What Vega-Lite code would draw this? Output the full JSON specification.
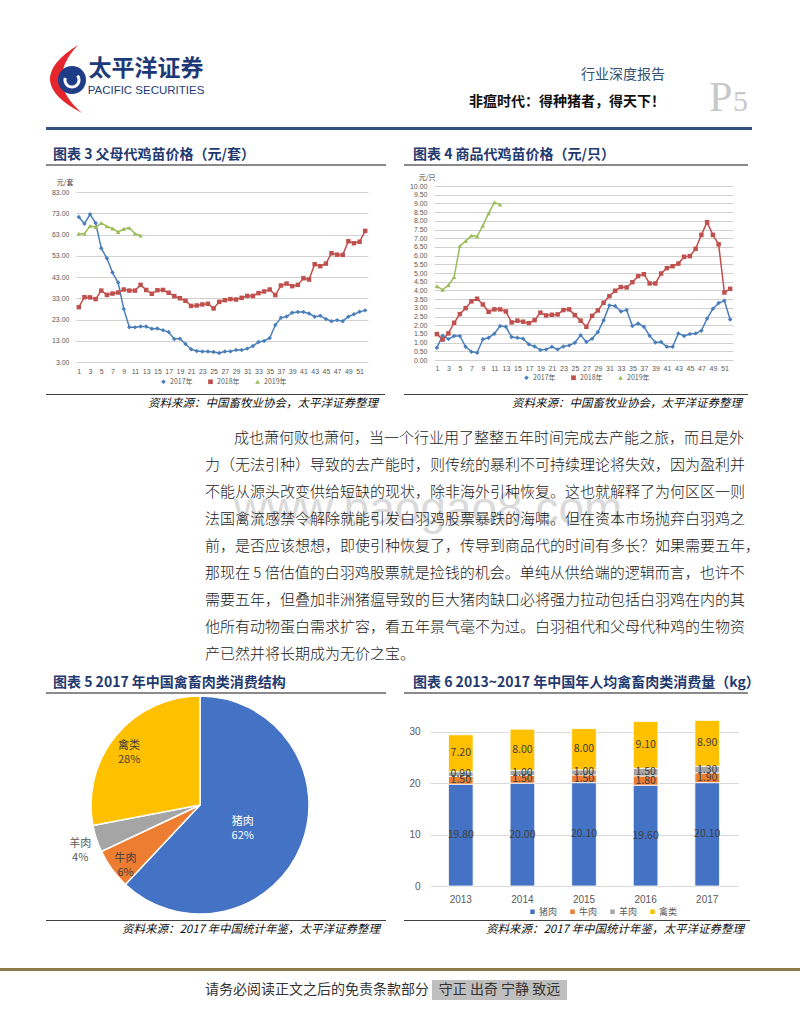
{
"$schema": "https://vega.github.io/schema/vega-lite/v6.json",
"background": "white",
"padding": 0,
"columns": 3,
"spacing": 0,
"bounds": "flush",
"align": "each",
"resolve": {
  "scale": {"x": "independent", "y": "independent", "color": "independent", "shape": "independent", "theta": "independent"},
  "axis": {"x": "independent", "y": "independent"},
  "legend": {"color": "independent", "shape": "independent"}
},
"config": {
  "view": {"stroke": null},
  "font": "Noto Sans CJK SC",
  "axis": {"labelFont": "Liberation Sans", "titleFont": "Noto Sans CJK SC"},
  "legend": {"labelFont": "Noto Sans CJK SC"},
  "title": {"fontWeight": "normal", "font": "Noto Sans CJK SC"}
},
"concat": [
{"width":1,"height":40,"data":{"values":[]},"mark":"point","encoding":{}},
{"width":1,"height":1,"data":{"values":[]},"mark":"point","encoding":{}},
{"width":1,"height":1,"data":{"values":[]},"mark":"point","encoding":{}},

{"width":1,"height":1,"data":{"values":[]},"mark":"point","encoding":{}},
{"width":52,"height":80,
 "data":{"values":[{"名称":"太平洋证券","英文":"PACIFIC SECURITIES"}]},
 "layer":[
  {"mark":{"type":"point","shape":"M0.171,-1Q-1.486,0.029,0.286,0.943Q-0.8,0.029,0.171,-1Z","size":4900,"filled":true,"opacity":1,"color":"#e5262d","strokeWidth":0},"encoding":{}},
  {"mark":{"type":"arc","theta":0,"theta2":6.2832,"innerRadius":0,"outerRadius":14,"color":"#1f3c86"},"encoding":{}},
  {"mark":{"type":"arc","theta":0.9,"theta2":5.0,"innerRadius":5.5,"outerRadius":8.5,"color":"white"},"encoding":{}},
  {"mark":{"type":"text","dx":74,"dy":1,"baseline":"bottom","fontSize":23,"fontWeight":"bold","color":"#1d3a78"},"encoding":{"text":{"field":"名称"}}},
  {"mark":{"type":"text","dx":74,"dy":5,"baseline":"top","fontSize":11.5,"font":"Liberation Sans","color":"#1d3a78"},"encoding":{"text":{"field":"英文"}}}
 ]},
{"width":344,"height":80,
 "data":{"values":[{"类型":"行业深度报告","标题":"非瘟时代：得种猪者，得天下！","页":"P","码":"5"}]},
 "layer":[
  {"mark":{"type":"text","align":"right","baseline":"middle","dx":89,"dy":-5,"fontSize":14,"color":"#34506e"},"encoding":{"text":{"field":"类型"}}},
  {"mark":{"type":"text","align":"right","baseline":"middle","dx":89,"dy":22,"fontSize":14,"fontWeight":"bold","color":"#111111"},"encoding":{"text":{"field":"标题"}}},
  {"mark":{"type":"text","align":"left","baseline":"alphabetic","dx":133,"dy":31,"fontSize":42,"font":"Liberation Serif","color":"#c8c8c8"},"encoding":{"text":{"field":"页"}}},
  {"mark":{"type":"text","align":"left","baseline":"alphabetic","dx":157,"dy":31,"fontSize":30,"font":"Liberation Serif","color":"#c8c8c8"},"encoding":{"text":{"field":"码"}}}
 ]},

{"width":1,"height":7,"data":{"values":[]},"mark":"point","encoding":{}},
{"width":1,"height":1,"data":{"values":[]},"mark":"point","encoding":{}},
{"width":1,"height":1,"data":{"values":[]},"mark":"point","encoding":{}},

{"width":1,"height":1,"data":{"values":[]},"mark":"point","encoding":{}},
{"width":358,"height":3,"view":{"fill":"#34527d","stroke":null},"data":{"values":[]},"mark":"point","encoding":{}},
{"width":348,"height":3,"view":{"fill":"#34527d","stroke":null},"data":{"values":[]},"mark":"point","encoding":{}},

{"width":1,"height":34,"data":{"values":[]},"mark":"point","encoding":{}},
{"width":1,"height":1,"data":{"values":[]},"mark":"point","encoding":{}},
{"width":1,"height":1,"data":{"values":[]},"mark":"point","encoding":{}},

{"width":1,"height":1,"data":{"values":[]},"mark":"point","encoding":{}},
{"width":340,"height":2,"view":{"fill":"#8a8a8a","stroke":null},
 "title":{"text":"图表 3 父母代鸡苗价格（元/套）","anchor":"start","offset":2,"dx":7,"fontSize":14,"fontWeight":"bold","color":"#1f3a6e"},
 "data":{"values":[]},"mark":"point","encoding":{}},
{"width":344,"height":2,"view":{"fill":"#8a8a8a","stroke":null},
 "title":{"text":"图表 4 商品代鸡苗价格（元/只）","anchor":"start","offset":2,"dx":9,"fontSize":14,"fontWeight":"bold","color":"#1f3a6e"},
 "data":{"values":[]},"mark":"point","encoding":{}},

{"width":1,"height":20,"data":{"values":[]},"mark":"point","encoding":{}},
{"width":1,"height":1,"data":{"values":[]},"mark":"point","encoding":{}},
{"width":1,"height":1,"data":{"values":[]},"mark":"point","encoding":{}},

{"width":1,"height":1,"data":{"values":[]},"mark":"point","encoding":{}},
{"width":322,"height":176,
 "data":{"values":[
  {"周":1,"2017年":71.2,"2018年":28.8,"2019年":63.4},
  {"周":2,"2017年":68.1,"2018年":33.5,"2019年":63.4},
  {"周":3,"2017年":72.5,"2018年":33.4,"2019年":67.0},
  {"周":4,"2017年":68.4,"2018年":32.6,"2019年":66.5},
  {"周":5,"2017年":56.5,"2018年":36.6,"2019年":68.4},
  {"周":6,"2017年":51.8,"2018年":34.6,"2019年":66.8},
  {"周":7,"2017年":45.1,"2018年":35.2,"2019年":65.8},
  {"周":8,"2017年":40.4,"2018年":35.7,"2019年":64.2},
  {"周":9,"2017年":28.0,"2018年":37.1,"2019年":65.6},
  {"周":10,"2017年":19.4,"2018年":36.6,"2019年":66.1},
  {"周":11,"2017年":19.3,"2018年":36.6,"2019年":63.4},
  {"周":12,"2017年":19.7,"2018年":39.3,"2019年":62.5},
  {"周":13,"2017年":19.7,"2018年":36.9},
  {"周":14,"2017年":18.6,"2018年":35.1},
  {"周":15,"2017年":18.8,"2018年":36.8},
  {"周":16,"2017年":17.9,"2018年":36.9},
  {"周":17,"2017年":17.1,"2018年":35.6},
  {"周":18,"2017年":13.8,"2018年":34.0},
  {"周":19,"2017年":14.0,"2018年":33.0},
  {"周":20,"2017年":11.5,"2018年":31.8},
  {"周":21,"2017年":9.0,"2018年":29.4},
  {"周":22,"2017年":8.2,"2018年":29.6},
  {"周":23,"2017年":7.9,"2018年":30.1},
  {"周":24,"2017年":7.9,"2018年":30.4},
  {"周":25,"2017年":7.7,"2018年":28.2},
  {"周":26,"2017年":7.2,"2018年":31.3},
  {"周":27,"2017年":7.9,"2018年":32.1},
  {"周":28,"2017年":8.0,"2018年":32.6},
  {"周":29,"2017年":8.6,"2018年":32.4},
  {"周":30,"2017年":8.6,"2018年":33.2},
  {"周":31,"2017年":9.3,"2018年":34.1},
  {"周":32,"2017年":10.5,"2018年":34.1},
  {"周":33,"2017年":12.4,"2018年":35.4},
  {"周":34,"2017年":12.9,"2018年":36.2},
  {"周":35,"2017年":14.3,"2018年":37.1},
  {"周":36,"2017年":20.4,"2018年":34.5},
  {"周":37,"2017年":23.8,"2018年":39.0},
  {"周":38,"2017年":24.4,"2018年":39.9},
  {"周":39,"2017年":26.2,"2018年":38.7},
  {"周":40,"2017年":26.5,"2018年":39.3},
  {"周":41,"2017年":26.5,"2018年":42.4},
  {"周":42,"2017年":25.8,"2018年":41.8},
  {"周":43,"2017年":24.3,"2018年":49.0},
  {"周":44,"2017年":24.8,"2018年":48.1},
  {"周":45,"2017年":23.2,"2018年":49.3},
  {"周":46,"2017年":22.2,"2018年":54.2},
  {"周":47,"2017年":22.7,"2018年":53.5},
  {"周":48,"2017年":22.2,"2018年":53.4},
  {"周":49,"2017年":24.3,"2018年":59.8},
  {"周":50,"2017年":25.5,"2018年":58.9},
  {"周":51,"2017年":26.6,"2018年":59.6},
  {"周":52,"2017年":27.3,"2018年":64.7}
 ]},
 "transform":[{"fold":["2017年","2018年","2019年"],"as":["年份","价格"]}],
 "mark":{"type":"line","strokeWidth":1.5,"point":{"filled":true,"size":20}},
 "encoding":{
  "x":{"field":"周","type":"quantitative","scale":{"domain":[0.5,52.5],"range":[30,322],"nice":false,"zero":false},
       "axis":{"title":null,"values":[1,3,5,7,9,11,13,15,17,19,21,23,25,27,29,31,33,35,37,39,41,43,45,47,49,51],"format":"d","grid":false,"domain":false,"ticks":false,"labelFontSize":7,"labelColor":"#595959","labelPadding":5}},
  "y":{"field":"价格","type":"quantitative","scale":{"domain":[3,83],"range":[176,6],"nice":false,"zero":false},
       "axis":{"offset":-30,"title":"元/套","titleAngle":0,"titleX":-3,"titleY":-4,"titleAlign":"right","titleBaseline":"middle","titleFontSize":7,"titleFontWeight":"normal","titleColor":"#404040","values":[3,13,23,33,43,53,63,73,83],"format":".2f","grid":true,"gridColor":"#d0d0d0","domain":false,"ticks":false,"labelFontSize":7,"labelColor":"#595959","labelPadding":7}},
  "color":{"field":"年份","type":"nominal","scale":{"domain":["2017年","2018年","2019年"],"range":["#4a7ebb","#c0504d","#9bbb59"]},
       "legend":{"title":null,"orient":"none","legendX":114,"legendY":192,"direction":"horizontal","labelFontSize":7,"labelColor":"#595959","symbolSize":22,"symbolStrokeWidth":0,"columnPadding":14,"labelOffset":3}},
  "shape":{"field":"年份","type":"nominal","scale":{"domain":["2017年","2018年","2019年"],"range":["diamond","square","triangle-up"]},
       "legend":{"title":null,"orient":"none","legendX":114,"legendY":192,"direction":"horizontal","labelFontSize":7,"labelColor":"#595959","symbolSize":22,"symbolStrokeWidth":0,"columnPadding":14,"labelOffset":3}}
 }},
{"width":329,"height":174,
 "data":{"values":[
  {"周":1,"2017年":0.71,"2018年":1.49,"2019年":4.24},
  {"周":2,"2017年":1.40,"2018年":1.17,"2019年":4.03},
  {"周":3,"2017年":1.20,"2018年":1.53,"2019年":4.30},
  {"周":4,"2017年":1.38,"2018年":2.14,"2019年":4.76},
  {"周":5,"2017年":1.38,"2018年":2.64,"2019年":6.56},
  {"周":6,"2017年":0.76,"2018年":2.98,"2019年":6.83},
  {"周":7,"2017年":0.48,"2018年":3.37,"2019年":7.15},
  {"周":8,"2017年":0.42,"2018年":3.52,"2019年":7.11},
  {"周":9,"2017年":1.19,"2018年":3.19,"2019年":7.72},
  {"周":10,"2017年":1.28,"2018年":2.77,"2019年":8.43},
  {"周":11,"2017年":1.51,"2018年":2.91,"2019年":9.06},
  {"周":12,"2017年":1.95,"2018年":2.91,"2019年":8.93},
  {"周":13,"2017年":1.91,"2018年":2.79},
  {"周":14,"2017年":1.32,"2018年":2.16},
  {"周":15,"2017年":1.28,"2018年":2.26},
  {"周":16,"2017年":1.22,"2018年":2.20},
  {"周":17,"2017年":0.90,"2018年":2.12},
  {"周":18,"2017年":0.78,"2018年":2.29},
  {"周":19,"2017年":0.57,"2018年":2.72},
  {"周":20,"2017年":0.61,"2018年":2.56},
  {"周":21,"2017年":0.76,"2018年":2.60},
  {"周":22,"2017年":0.61,"2018年":2.62},
  {"周":23,"2017年":0.78,"2018年":2.87},
  {"周":24,"2017年":0.84,"2018年":2.91},
  {"周":25,"2017年":0.99,"2018年":2.58},
  {"周":26,"2017年":1.43,"2018年":2.26},
  {"周":27,"2017年":1.03,"2018年":1.91},
  {"周":28,"2017年":1.22,"2018年":2.54},
  {"周":29,"2017年":1.61,"2018年":2.85},
  {"周":30,"2017年":2.29,"2018年":3.29},
  {"周":31,"2017年":3.14,"2018年":3.67},
  {"周":32,"2017年":3.10,"2018年":3.98},
  {"周":33,"2017年":2.79,"2018年":4.19},
  {"周":34,"2017年":2.87,"2018年":4.17},
  {"周":35,"2017年":1.95,"2018年":4.47},
  {"周":36,"2017年":2.10,"2018年":4.82},
  {"周":37,"2017年":1.91,"2018年":4.93},
  {"周":38,"2017年":1.40,"2018年":4.40},
  {"周":39,"2017年":1.01,"2018年":4.40},
  {"周":40,"2017年":1.03,"2018年":4.97},
  {"周":41,"2017年":0.76,"2018年":5.28},
  {"周":42,"2017年":0.76,"2018年":5.39},
  {"周":43,"2017年":1.53,"2018年":5.54},
  {"周":44,"2017年":1.38,"2018年":5.93},
  {"周":45,"2017年":1.49,"2018年":5.97},
  {"周":46,"2017年":1.53,"2018年":6.39},
  {"周":47,"2017年":1.68,"2018年":7.19},
  {"周":48,"2017年":2.39,"2018年":7.92},
  {"周":49,"2017年":2.94,"2018年":7.19},
  {"周":50,"2017年":3.27,"2018年":6.65},
  {"周":51,"2017年":3.40,"2018年":3.88},
  {"周":52,"2017年":2.33,"2018年":4.09}
 ]},
 "transform":[{"fold":["2017年","2018年","2019年"],"as":["年份","价格"]}],
 "mark":{"type":"line","strokeWidth":1.5,"point":{"filled":true,"size":20}},
 "encoding":{
  "x":{"field":"周","type":"quantitative","scale":{"domain":[0.5,52.5],"range":[30,329],"nice":false,"zero":false},
       "axis":{"title":null,"values":[1,3,5,7,9,11,13,15,17,19,21,23,25,27,29,31,33,35,37,39,41,43,45,47,49,51],"format":"d","grid":false,"domain":false,"ticks":false,"labelFontSize":7,"labelColor":"#595959","labelPadding":4}},
  "y":{"field":"价格","type":"quantitative","scale":{"domain":[0,10],"nice":false,"zero":false},
       "axis":{"offset":-30,"title":"元/只","titleAngle":0,"titleX":1,"titleY":-9,"titleAlign":"right","titleBaseline":"middle","titleFontSize":7,"titleFontWeight":"normal","titleColor":"#404040","values":[0,0.5,1,1.5,2,2.5,3,3.5,4,4.5,5,5.5,6,6.5,7,7.5,8,8.5,9,9.5,10],"format":".2f","grid":true,"gridColor":"#d0d0d0","domain":false,"ticks":false,"labelFontSize":7,"labelColor":"#595959","labelPadding":7}},
  "color":{"field":"年份","type":"nominal","scale":{"domain":["2017年","2018年","2019年"],"range":["#4a7ebb","#c0504d","#9bbb59"]},
       "legend":{"title":null,"orient":"none","legendX":119,"legendY":188,"direction":"horizontal","labelFontSize":7,"labelColor":"#595959","symbolSize":22,"symbolStrokeWidth":0,"columnPadding":14,"labelOffset":3}},
  "shape":{"field":"年份","type":"nominal","scale":{"domain":["2017年","2018年","2019年"],"range":["diamond","square","triangle-up"]},
       "legend":{"title":null,"orient":"none","legendX":119,"legendY":188,"direction":"horizontal","labelFontSize":7,"labelColor":"#595959","symbolSize":22,"symbolStrokeWidth":0,"columnPadding":14,"labelOffset":3}}
 }},

{"width":1,"height":32,"data":{"values":[]},"mark":"point","encoding":{}},
{"width":1,"height":1,"data":{"values":[]},"mark":"point","encoding":{}},
{"width":1,"height":1,"data":{"values":[]},"mark":"point","encoding":{}},

{"width":1,"height":1,"data":{"values":[]},"mark":"point","encoding":{}},
{"width":339,"height":1,"view":{"fill":"#404040","stroke":null},
 "title":{"text":"资料来源：中国畜牧业协会，太平洋证券整理","orient":"bottom","anchor":"end","offset":3,"dx":-7,"fontSize":11.5,"fontStyle":"italic","fontWeight":"normal","color":"#111111"},
 "data":{"values":[]},"mark":"point","encoding":{}},
{"width":344,"height":1,"view":{"fill":"#404040","stroke":null},
 "title":{"text":"资料来源：中国畜牧业协会，太平洋证券整理","orient":"bottom","anchor":"end","offset":3,"dx":-6,"fontSize":11.5,"fontStyle":"italic","fontWeight":"normal","color":"#111111"},
 "data":{"values":[]},"mark":"point","encoding":{}},

{"width":1,"height":35,"data":{"values":[]},"mark":"point","encoding":{}},
{"width":1,"height":1,"data":{"values":[]},"mark":"point","encoding":{}},
{"width":1,"height":1,"data":{"values":[]},"mark":"point","encoding":{}},

{"width":1,"height":1,"data":{"values":[]},"mark":"point","encoding":{}},
{"width":318,"height":1,
 "data":{"values":[{"水印":"www.baogao8.com","首行":"成也萧何败也萧何，当一个行业用了整整五年时间完成去产能之旅，而且是外","正文":"力（无法引种）导致的去产能时，则传统的暴利不可持续理论将失效，因为盈利并\n不能从源头改变供给短缺的现状，除非海外引种恢复。这也就解释了为何区区一则\n法国禽流感禁令解除就能引发白羽鸡股票暴跌的海啸。但在资本市场抛弃白羽鸡之\n前，是否应该想想，即使引种恢复了，传导到商品代的时间有多长？如果需要五年，\n那现在 5 倍估值的白羽鸡股票就是捡钱的机会。单纯从供给端的逻辑而言，也许不\n需要五年，但叠加非洲猪瘟导致的巨大猪肉缺口必将强力拉动包括白羽鸡在内的其\n他所有动物蛋白需求扩容，看五年景气毫不为过。白羽祖代和父母代种鸡的生物资\n产已然并将长期成为无价之宝。"}]},
 "layer":[
  {"mark":{"type":"text","align":"center","baseline":"middle","dx":223,"dy":79,"fontSize":46,"font":"Liberation Sans","color":"#dadada"},"encoding":{"text":{"field":"水印"}}},
  {"mark":{"type":"text","align":"left","baseline":"top","dx":29,"fontSize":15,"fontWeight":300,"color":"#1a1a1a"},"encoding":{"text":{"field":"首行"}}},
  {"mark":{"type":"text","align":"left","baseline":"top","dy":27.1,"fontSize":15,"fontWeight":300,"lineHeight":27.1,"lineBreak":"\n","color":"#1a1a1a"},"encoding":{"text":{"field":"正文"}}}
 ]},
{"width":1,"height":1,"data":{"values":[]},"mark":"point","encoding":{}},

{"width":1,"height":261,"data":{"values":[]},"mark":"point","encoding":{}},
{"width":1,"height":1,"data":{"values":[]},"mark":"point","encoding":{}},
{"width":1,"height":1,"data":{"values":[]},"mark":"point","encoding":{}},

{"width":1,"height":1,"data":{"values":[]},"mark":"point","encoding":{}},
{"width":340,"height":2,"view":{"fill":"#8a8a8a","stroke":null},
 "title":{"text":"图表 5 2017 年中国禽畜肉类消费结构","anchor":"start","offset":2,"dx":7,"fontSize":14,"fontWeight":"bold","color":"#1f3a6e"},
 "data":{"values":[]},"mark":"point","encoding":{}},
{"width":344,"height":2,"view":{"fill":"#8a8a8a","stroke":null},
 "title":{"text":"图表 6 2013~2017 年中国年人均禽畜肉类消费量（kg）","anchor":"start","offset":2,"dx":9,"fontSize":14,"fontWeight":"bold","color":"#1f3a6e"},
 "data":{"values":[]},"mark":"point","encoding":{}},

{"width":1,"height":12,"data":{"values":[]},"mark":"point","encoding":{}},
{"width":1,"height":1,"data":{"values":[]},"mark":"point","encoding":{}},
{"width":1,"height":1,"data":{"values":[]},"mark":"point","encoding":{}},

{"width":1,"height":1,"data":{"values":[]},"mark":"point","encoding":{}},
{"width":308,"height":198,
 "data":{"values":[
  {"类别":"猪肉","占比":62,"序号":1,"标签":"猪肉\n62%"},
  {"类别":"牛肉","占比":6,"序号":2,"标签":"牛肉\n6%"},
  {"类别":"羊肉","占比":4,"序号":3,"标签":"羊肉\n4%"},
  {"类别":"禽类","占比":28,"序号":4,"标签":"禽类\n28%"}
 ]},
 "encoding":{
  "theta":{"field":"占比","type":"quantitative","stack":true},
  "order":{"field":"序号","type":"quantitative"}
 },
 "layer":[
  {"mark":{"type":"arc","outerRadius":109,"stroke":"white","strokeWidth":1.5},
   "encoding":{"color":{"field":"类别","type":"nominal","scale":{"domain":["猪肉","牛肉","羊肉","禽类"],"range":["#4472C4","#ED7D31","#A5A5A5","#FFC000"]},"legend":null}}},
  {"mark":{"type":"text","radius":46,"fontSize":11,"lineHeight":14,"lineBreak":"\n","baseline":"middle","color":"white"},
   "encoding":{"detail":{"field":"类别"},"text":{"field":"标签","condition":{"test":"datum['类别'] !== '猪肉'","value":""}}}},
  {"mark":{"type":"text","radius":92,"fontSize":11,"lineHeight":14,"lineBreak":"\n","baseline":"middle","color":"#404040"},
   "encoding":{"detail":{"field":"类别"},"text":{"field":"标签","condition":{"test":"datum['类别'] !== '牛肉' && datum['类别'] !== '禽类'","value":""}}}},
  {"mark":{"type":"text","radius":126,"fontSize":11,"lineHeight":14,"lineBreak":"\n","baseline":"middle","color":"#595959"},
   "encoding":{"detail":{"field":"类别"},"text":{"field":"标签","condition":{"test":"datum['类别'] !== '羊肉'","value":""}}}}
 ]},
{"width":334,"height":180,
 "data":{"values":[
  {"年份":"2013","类别":"猪肉","序号":1,"消费量":19.8},
  {"年份":"2013","类别":"牛肉","序号":2,"消费量":1.5},
  {"年份":"2013","类别":"羊肉","序号":3,"消费量":0.9},
  {"年份":"2013","类别":"禽类","序号":4,"消费量":7.2},
  {"年份":"2014","类别":"猪肉","序号":1,"消费量":20.0},
  {"年份":"2014","类别":"牛肉","序号":2,"消费量":1.5},
  {"年份":"2014","类别":"羊肉","序号":3,"消费量":1.0},
  {"年份":"2014","类别":"禽类","序号":4,"消费量":8.0},
  {"年份":"2015","类别":"猪肉","序号":1,"消费量":20.1},
  {"年份":"2015","类别":"牛肉","序号":2,"消费量":1.5},
  {"年份":"2015","类别":"羊肉","序号":3,"消费量":1.0},
  {"年份":"2015","类别":"禽类","序号":4,"消费量":8.0},
  {"年份":"2016","类别":"猪肉","序号":1,"消费量":19.6},
  {"年份":"2016","类别":"牛肉","序号":2,"消费量":1.8},
  {"年份":"2016","类别":"羊肉","序号":3,"消费量":1.5},
  {"年份":"2016","类别":"禽类","序号":4,"消费量":9.1},
  {"年份":"2017","类别":"猪肉","序号":1,"消费量":20.1},
  {"年份":"2017","类别":"牛肉","序号":2,"消费量":1.9},
  {"年份":"2017","类别":"羊肉","序号":3,"消费量":1.3},
  {"年份":"2017","类别":"禽类","序号":4,"消费量":8.9}
 ]},
 "encoding":{
  "x":{"field":"年份","type":"ordinal","scale":{"range":[26,334],"paddingInner":0.6,"paddingOuter":0.3},
       "axis":{"title":null,"labelAngle":0,"domain":false,"ticks":false,"labelFontSize":10,"labelColor":"#595959","labelPadding":8}},
  "order":{"field":"序号","type":"quantitative"}
 },
 "layer":[
  {"mark":{"type":"bar","stroke":"white","strokeWidth":0.8},
   "encoding":{
    "y":{"field":"消费量","type":"quantitative","stack":"zero","title":null,"scale":{"domain":[0,35],"nice":false},
         "axis":{"offset":-26,"title":null,"values":[0,5,10,15,20,25,30,35],"domain":false,"ticks":false,"grid":true,"gridColor":"#d9d9d9","labelFontSize":10,"labelColor":"#595959","labelPadding":10}},
    "color":{"field":"类别","type":"nominal","scale":{"domain":["猪肉","牛肉","羊肉","禽类"],"range":["#4472C4","#ED7D31","#A5A5A5","#FFC000"]},
         "legend":{"title":null,"orient":"none","legendX":124,"legendY":201,"direction":"horizontal","symbolType":"square","symbolSize":36,"labelFontSize":9,"labelColor":"#595959","columnPadding":8,"labelOffset":2}}
   }},
  {"mark":{"type":"text","fontSize":10.5,"color":"#404040","baseline":"middle"},
   "encoding":{
    "y":{"field":"消费量","type":"quantitative","stack":"zero","bandPosition":0.5,"title":null},
    "detail":{"field":"类别"},
    "text":{"field":"消费量","type":"quantitative","format":".2f"}
   }}
 ]},

{"width":1,"height":16,"data":{"values":[]},"mark":"point","encoding":{}},
{"width":1,"height":1,"data":{"values":[]},"mark":"point","encoding":{}},
{"width":1,"height":1,"data":{"values":[]},"mark":"point","encoding":{}},

{"width":1,"height":1,"data":{"values":[]},"mark":"point","encoding":{}},
{"width":340,"height":1,"view":{"fill":"#404040","stroke":null},
 "title":{"text":"资料来源：2017 年中国统计年鉴，太平洋证券整理","orient":"bottom","anchor":"end","offset":3,"dx":-6,"fontSize":11.5,"fontStyle":"italic","fontWeight":"normal","color":"#111111"},
 "data":{"values":[]},"mark":"point","encoding":{}},
{"width":346,"height":1,"view":{"fill":"#404040","stroke":null},
 "title":{"text":"资料来源：2017 年中国统计年鉴，太平洋证券整理","orient":"bottom","anchor":"end","offset":3,"dx":-6,"fontSize":11.5,"fontStyle":"italic","fontWeight":"normal","color":"#111111"},
 "data":{"values":[]},"mark":"point","encoding":{}},

{"width":1,"height":47,"data":{"values":[]},"mark":"point","encoding":{}},
{"width":1,"height":1,"data":{"values":[]},"mark":"point","encoding":{}},
{"width":1,"height":1,"data":{"values":[]},"mark":"point","encoding":{}},

{"width":46,"height":3,"view":{"fill":"#8c7c4c","stroke":null},"data":{"values":[]},"mark":"point","encoding":{}},
{"width":358,"height":3,"view":{"fill":"#8c7c4c","stroke":null},"data":{"values":[]},"mark":"point","encoding":{}},
{"width":396,"height":3,"view":{"fill":"#8c7c4c","stroke":null},"data":{"values":[]},"mark":"point","encoding":{}},

{"width":1,"height":9,"data":{"values":[]},"mark":"point","encoding":{}},
{"width":1,"height":1,"data":{"values":[]},"mark":"point","encoding":{}},
{"width":1,"height":1,"data":{"values":[]},"mark":"point","encoding":{}},

{"width":1,"height":1,"data":{"values":[]},"mark":"point","encoding":{}},
{"width":318,"height":20,"data":{"values":[{"声明":"请务必阅读正文之后的免责条款部分"}]},
 "mark":{"type":"text","align":"left","baseline":"middle","fontSize":14,"color":"#333333"},"encoding":{"text":{"field":"声明"}}},
{"width":191,"height":20,"data":{"values":[{"口号":"守正 出奇 宁静 致远"}]},
 "layer":[
  {"mark":{"type":"point","shape":"M-1,-0.148148H1V0.148148H-1Z","size":18225,"filled":true,"opacity":1,"color":"#bfbfbf","strokeWidth":0}},
  {"mark":{"type":"text","baseline":"middle","fontSize":14,"color":"#333333"},"encoding":{"text":{"field":"口号"}}}
 ]}
]
}
